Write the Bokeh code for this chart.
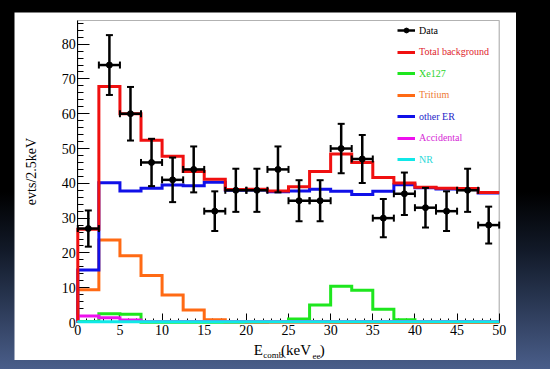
import numpy as np
from bokeh.plotting import figure
from bokeh.models import (FixedTicker, Legend, LegendItem, Label, Range1d,
                          BoxAnnotation, LinearAxis)
from bokeh.embed import file_html
from bokeh.resources import INLINE

# ---------------- data ----------------
bin_edges = [0, 2.5, 5, 7.5, 10, 12.5, 15, 17.5, 20, 22.5, 25,
             27.5, 30, 32.5, 35, 37.5, 40, 42.5, 45, 47.5, 50]
bin_centers = [1.25, 3.75, 6.25, 8.75, 11.25, 13.75, 16.25, 18.75, 21.25, 23.75,
               26.25, 28.75, 31.25, 33.75, 36.25, 38.75, 41.25, 43.75, 46.25, 48.75]
data_counts = [27, 74, 60, 46, 41, 44, 32, 38, 38, 44,
               35, 35, 50, 47, 30, 37, 33, 32, 38, 28]
data_errors = [5.2, 8.6, 7.7, 6.8, 6.4, 6.6, 5.7, 6.2, 6.2, 6.6,
               5.9, 5.9, 7.1, 6.9, 5.5, 6.1, 5.7, 5.7, 6.2, 5.3]
total_bkg = [26.8, 67.8, 60.0, 52.4, 47.8, 43.4, 41.2, 38.2, 38.3, 37.8,
             39.0, 43.4, 48.4, 46.0, 41.7, 40.1, 38.9, 38.6, 38.5, 37.4]
xe127 = [0.3, 2.5, 2.4, 0.1, 0.1, 0.1, 0.1, 0.1, 0.1, 0.2,
         1.0, 5.0, 10.4, 9.3, 3.8, 0.8, 0.1, 0.0, 0.0, 0.0]
tritium = [9.4, 23.7, 19.2, 13.5, 7.9, 3.6, 0.8, 0.2, 0.1, 0.1,
           0.1, 0.1, 0.0, 0.0, 0.0, 0.0, 0.0, 0.0, 0.0, 0.0]
other_er = [15.1, 40.2, 37.8, 38.6, 39.5, 39.3, 40.3, 38.0, 38.1, 37.6,
            37.8, 38.3, 37.7, 36.8, 37.7, 39.6, 38.7, 38.4, 38.3, 37.2]
accidental = [1.9, 1.4, 0.7, 0.3, 0.3, 0.3, 0.3, 0.3, 0.3, 0.3,
              0.3, 0.3, 0.3, 0.3, 0.3, 0.3, 0.3, 0.3, 0.3, 0.3]
nr = [0.2, 0.2, 0.2, 0.2, 0.2, 0.2, 0.2, 0.2, 0.2, 0.2,
      0.2, 0.2, 0.2, 0.2, 0.2, 0.2, 0.2, 0.2, 0.2, 0.2]

x_ticks = [0, 5, 10, 15, 20, 25, 30, 35, 40, 45, 50]
y_ticks = [0, 10, 20, 30, 40, 50, 60, 70, 80]
X_MIN, X_MAX = 0, 50
Y_MIN, Y_MAX = 0, 86.8

# the whole white panel is the plotting frame; view limits leave room for the
# axis texts around the [0,50] x [0,86.8] box
VIEW_X = (-7.51, 52.05)
VIEW_Y = (-10.92, 89.1)

RED = "#f01010"
GREEN = "#1ee61e"
ORANGE = "#ff6a14"
BLUE = "#1010e8"
MAGENTA = "#ee10ee"
CYAN = "#10e8e8"
FONT = "Liberation Serif"


def outline(vals):
    xs = [bin_edges[0]]
    ys = [0.0]
    for i, v in enumerate(vals):
        xs += [bin_edges[i], bin_edges[i + 1]]
        ys += [v, v]
    return xs, ys


p = figure(width=502, height=348, output_backend="svg", toolbar_location=None,
           x_range=Range1d(*VIEW_X), y_range=Range1d(*VIEW_Y),
           x_axis_location=None, y_axis_location=None,
           min_border_left=0, min_border_right=0, min_border_top=0, min_border_bottom=0)
p.background_fill_color = "white"
p.border_fill_color = "white"
p.outline_line_color = None
p.xgrid.visible = False
p.ygrid.visible = False

# frame box
p.add_layout(BoxAnnotation(left=X_MIN, right=X_MAX, bottom=Y_MIN, top=Y_MAX,
                           fill_alpha=0, fill_color=None,
                           line_color="black", line_width=1.2))

xaxis = LinearAxis(fixed_location=0, bounds=(X_MIN, X_MAX))
yaxis = LinearAxis(fixed_location=0, bounds=(Y_MIN, Y_MAX))
p.add_layout(xaxis, "below")
p.add_layout(yaxis, "left")
xaxis.ticker = FixedTicker(ticks=x_ticks, minor_ticks=list(np.arange(0, 51, 1)))
yaxis.ticker = FixedTicker(ticks=y_ticks, minor_ticks=list(np.arange(0, 87, 2)))
for ax in (xaxis, yaxis):
    ax.axis_line_color = "black"
    ax.major_tick_line_color = "black"
    ax.minor_tick_line_color = "black"
    ax.major_tick_out = 0
    ax.minor_tick_out = 0
    ax.major_label_text_font = FONT
    ax.major_label_text_font_size = "14px"
    ax.major_label_text_color = "black"
xaxis.major_tick_in = 9
xaxis.minor_tick_in = 4
yaxis.major_tick_in = 12
yaxis.minor_tick_in = 6
xaxis.major_label_standoff = 2
yaxis.major_label_standoff = 2
yaxis.axis_label = "evts/2.5keV"
yaxis.axis_label_text_font = FONT
yaxis.axis_label_text_font_size = "14px"
yaxis.axis_label_text_font_style = "normal"
yaxis.axis_label_text_color = "black"
yaxis.axis_label_standoff = 20

# histograms
hist_specs = [("Xe127", xe127, GREEN), ("Tritium", tritium, ORANGE),
              ("other ER", other_er, BLUE), ("Accidental", accidental, MAGENTA),
              ("Total background", total_bkg, RED)]
hist_r = {}
for name, vals, col in hist_specs:
    xs, ys = outline(vals)
    r = p.line(xs, ys, line_color=col, line_width=3, line_join="miter")
    r.level = "overlay"
    hist_r[name] = r

# data points with error bars
xc = np.array(bin_centers)
yc = np.array(data_counts, dtype=float)
ye = np.array(data_errors)
hw = np.diff(np.array(bin_edges)) / 2.0
v_r = p.segment(x0=xc, y0=yc - ye, x1=xc, y1=yc + ye, line_color="black", line_width=2.5)
h_r = p.segment(x0=xc - hw, y0=yc, x1=xc + hw, y1=yc, line_color="black", line_width=2.5)
cap_v = p.scatter(x=np.concatenate([xc, xc]), y=np.concatenate([yc - ye, yc + ye]),
                  marker="dash", size=7, line_color="black", line_width=2)
cap_h = p.scatter(x=np.concatenate([xc - hw, xc + hw]), y=np.concatenate([yc, yc]),
                  marker="dash", angle=np.pi / 2, size=7, line_color="black", line_width=2)
pts_r = p.scatter(x=xc, y=yc, marker="circle", size=6, fill_color="black", line_color="black")
for r in (v_r, h_r, cap_v, cap_h, pts_r):
    r.level = "overlay"

xs, ys = outline(nr)
nr_r = p.line(xs, ys, line_color=CYAN, line_width=3)
nr_r.level = "overlay"
hist_r["NR"] = nr_r

# legends (one per entry so that each label has its own colour)
legend_specs = [("Data", [h_r, pts_r], "black"),
                ("Total background", [hist_r["Total background"]], "#e0242c"),
                ("Xe127", [hist_r["Xe127"]], "#2ad42a"),
                ("Tritium", [hist_r["Tritium"]], "#ee7a34"),
                ("other ER", [hist_r["other ER"]], "#2424c8"),
                ("Accidental", [hist_r["Accidental"]], "#d62ad6"),
                ("NR", [hist_r["NR"]], "#2ad8d8")]
for i, (lab, rs, col) in enumerate(legend_specs):
    lg = Legend(items=[LegendItem(label=lab, renderers=rs)],
                location=(383, 324 - i * 21.55),
                glyph_width=18, glyph_height=12, label_height=12,
                label_standoff=4, padding=0, margin=0, spacing=0,
                border_line_color=None, background_fill_alpha=0,
                label_text_font=FONT, label_text_font_size="10px",
                label_text_color=col)
    p.add_layout(lg, "center")

# x axis title with subscripts
for txt, xpos, ypos, size in [("E", 20.87, -7.9, "15px"),
                              ("comb", 22.0, -9.2, "9px"),
                              ("(keV", 24.12, -7.9, "15px"),
                              ("ee", 27.86, -9.7, "9px"),
                              (")", 28.7, -7.9, "15px")]:
    p.add_layout(Label(x=xpos, y=ypos, text=txt, text_font=FONT, text_font_size=size,
                       text_color="black", text_align="left", text_baseline="alphabetic"))

html = file_html(p, INLINE)
css = ("<style>html{height:100%;background:linear-gradient(to bottom,#000 0%,#000 52%,"
       "#121a29 68%,#26334d 80%,#4a5e8a 100%);}"
       "body{margin:12px 0 0 14px !important;}</style></head>")
html = html.replace("</head>", css, 1)
open("out.html", "w").write(html)
